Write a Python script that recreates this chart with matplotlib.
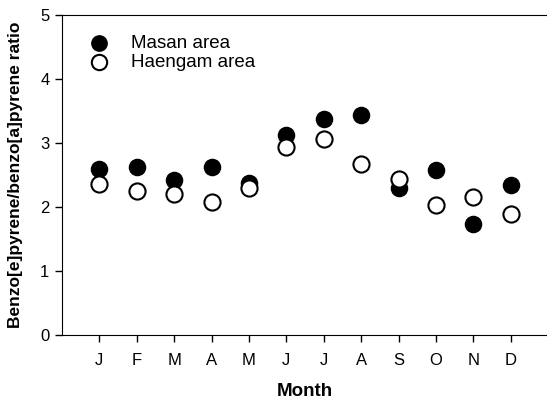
import matplotlib.pyplot as plt

plt.rcParams['font.family'] = ['Liberation Sans', 'DejaVu Sans']

# Valores
months = ['J', 'F', 'M', 'A', 'M', 'J', 'J', 'A', 'S', 'O', 'N', 'D']
masan = [2.60, 2.62, 2.42, 2.63, 2.37, 3.12, 3.38, 3.44, 2.30, 2.58, 1.74, 2.34]
haengam = [2.36, 2.25, 2.21, 2.08, 2.29, 2.93, 3.06, 2.67, 2.43, 2.03, 2.16, 1.89]

x = list(range(1, len(months) + 1))

fig = plt.figure(figsize=(5.47, 3.99), dpi=100)
ax = fig.add_axes([0.1133, 0.1604, 0.8867, 0.802])

ax.scatter(x, masan, s=135, color='black', edgecolors='black', label='Masan area', zorder=3)
ax.scatter(x, haengam, s=135, facecolors='white', edgecolors='black', linewidths=1.5,
           label='Haengam area', zorder=4)

ax.set_xlim(0, 12.97)
ax.set_ylim(0, 5)
ax.set_xticks(x)
ax.set_xticklabels(months)
ax.set_yticks([0, 1, 2, 3, 4, 5])
ax.tick_params(direction='out', length=5, width=1, labelsize=12, pad=4)
ax.tick_params(axis='x', pad=8)
ax.spines['right'].set_visible(False)

ax.set_xlabel('Month', fontsize=13.5, fontweight='bold', labelpad=11)
ax.set_ylabel('Benzo[e]pyrene/benzo[a]pyrene ratio', fontsize=12.5, fontweight='bold', labelpad=12)

ax.legend(loc='upper left', bbox_to_anchor=(0.023, 0.962), frameon=False, fontsize=13.5,
          handletextpad=0.7, labelspacing=0.1, borderaxespad=0, markerscale=0.95)

plt.savefig('out.png', dpi=100)
